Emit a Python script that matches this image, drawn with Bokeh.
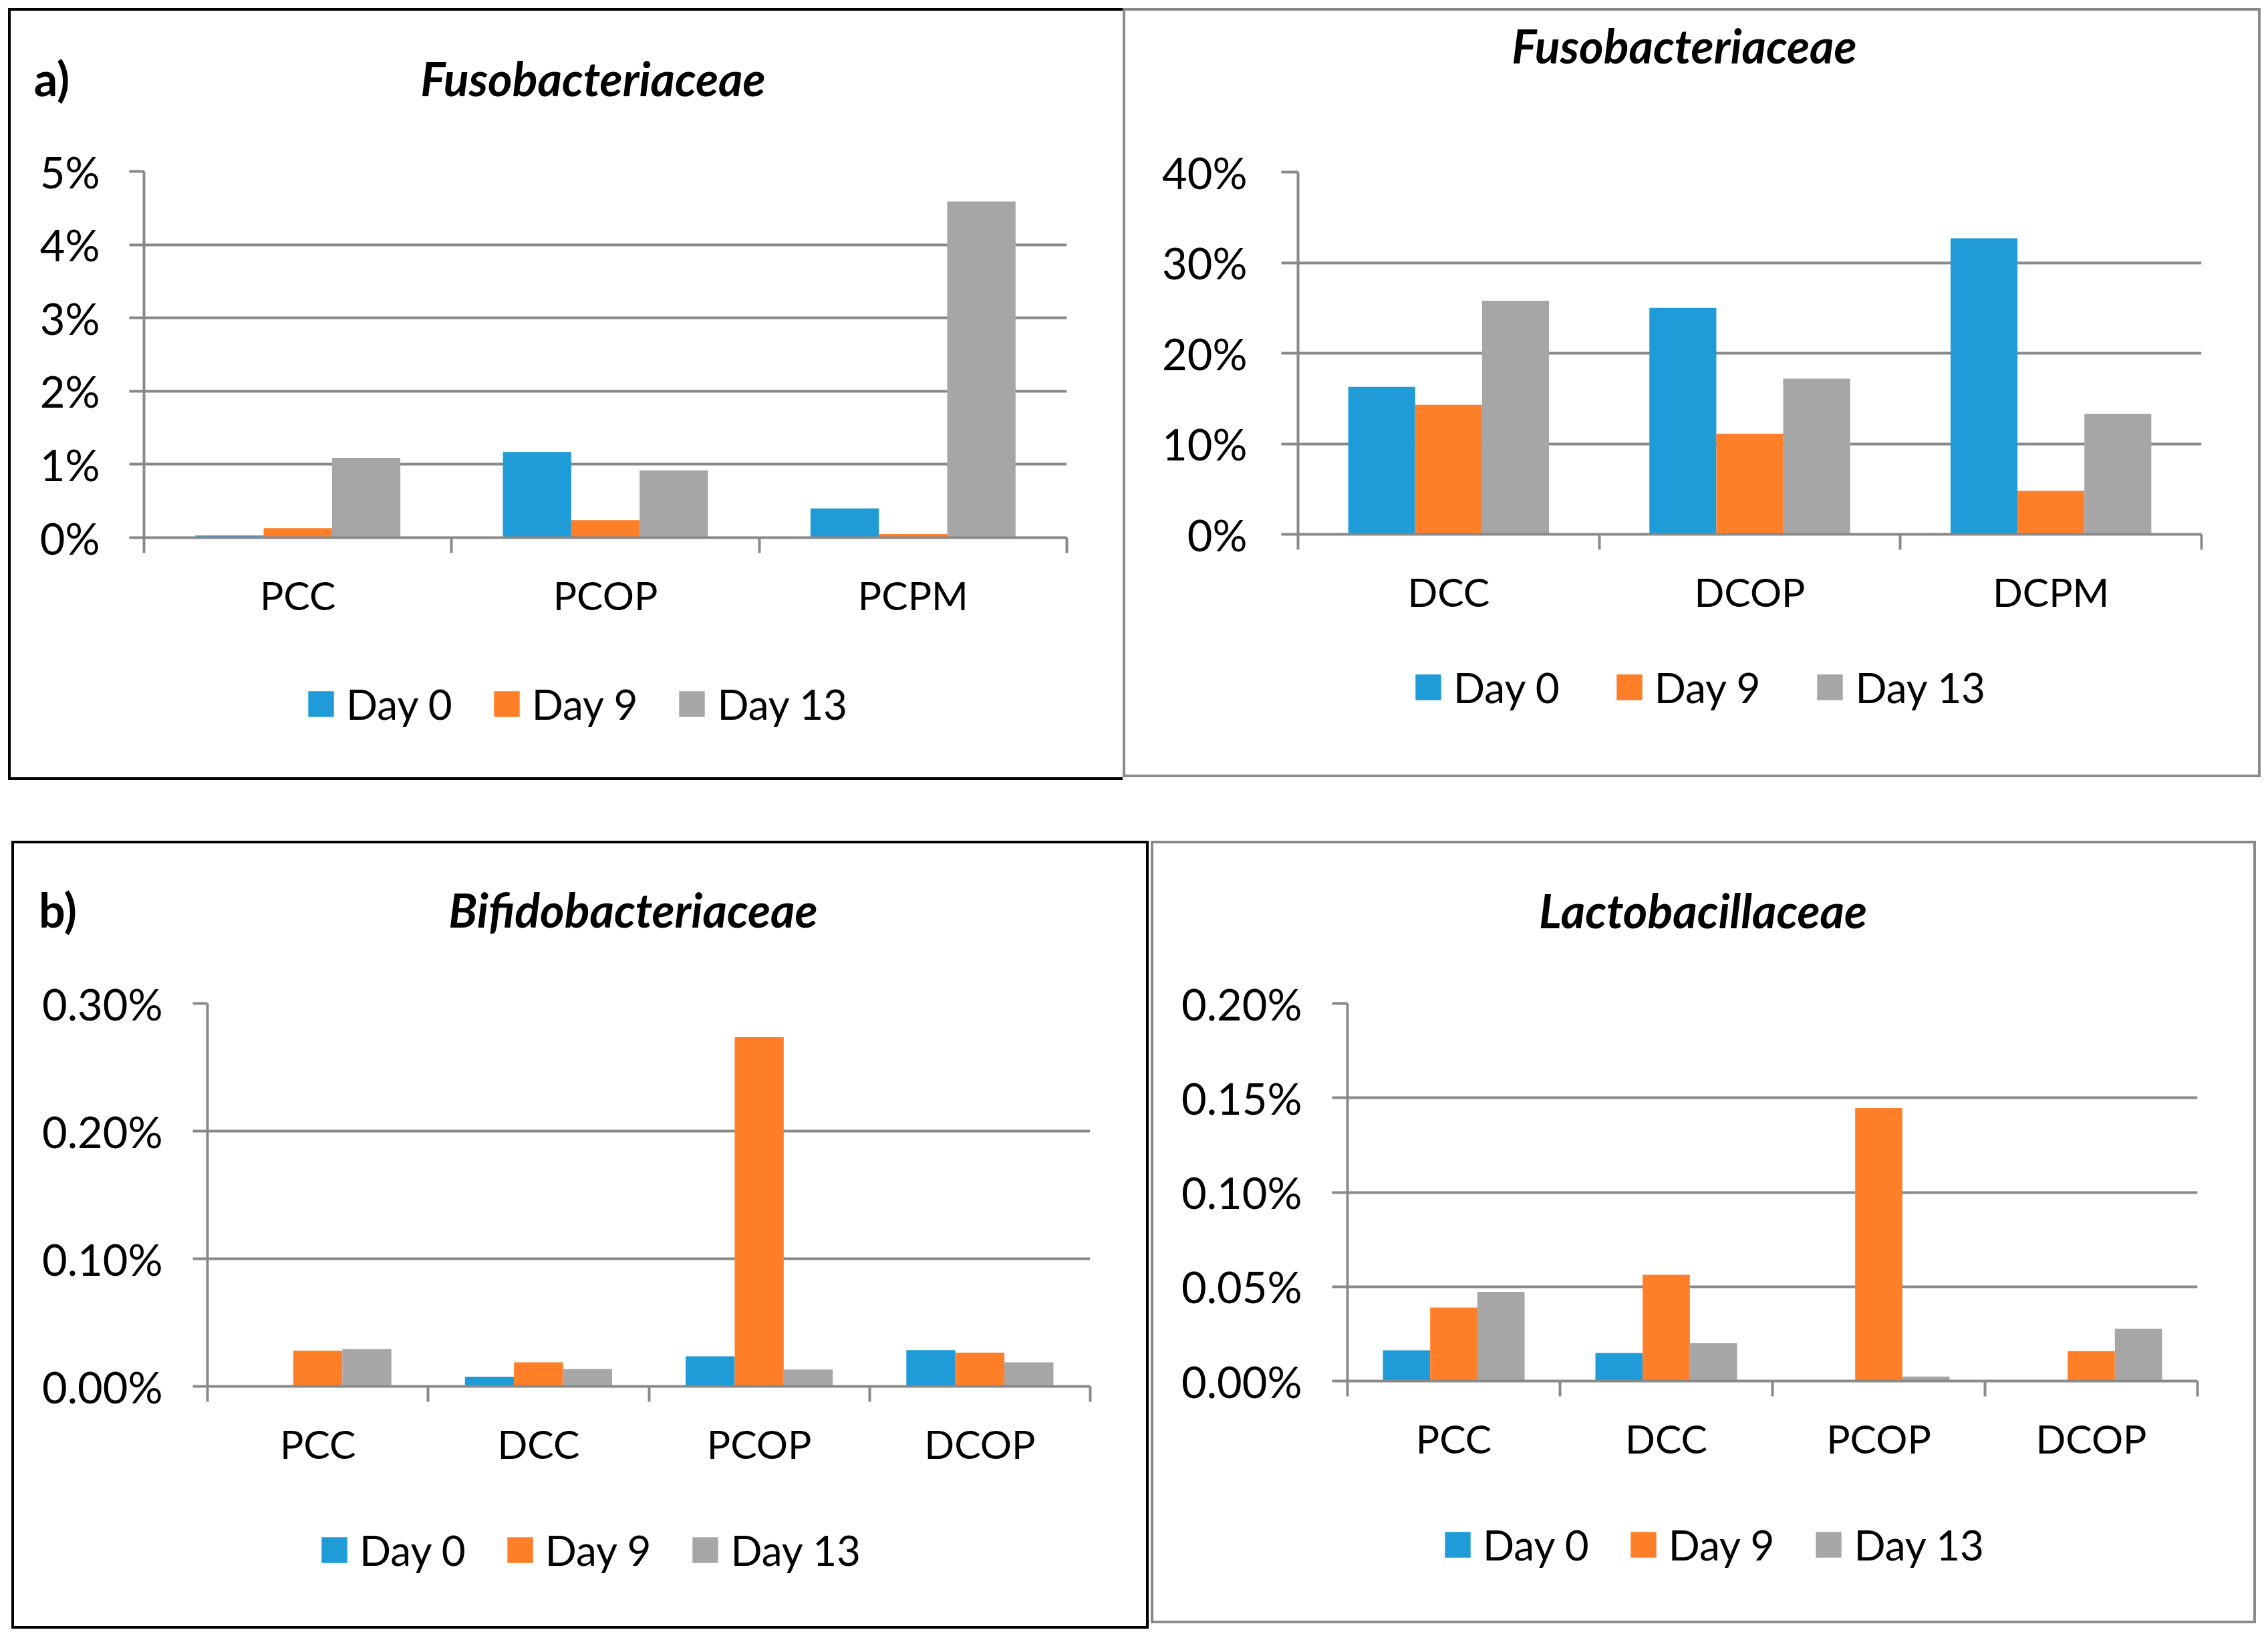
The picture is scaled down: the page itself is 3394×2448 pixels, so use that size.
import numpy as np
from bokeh.plotting import figure
from bokeh.models import (Range1d, FixedTicker, CustomJSTickFormatter, PrintfTickFormatter,
                          Legend, LegendItem, Label, Spacer)
from bokeh.layouts import row, column
from bokeh.embed import file_html
from bokeh.resources import INLINE

# ---------------- data ----------------
series = ["Day 0", "Day 9", "Day 13"]

a_categories = ["PCC", "PCOP", "PCPM"]
a_day0 = [0.03, 1.17, 0.40]
a_day9 = [0.13, 0.24, 0.05]
a_day13 = [1.09, 0.92, 4.59]
a_yticks = [0, 1, 2, 3, 4, 5]
a_title = "Fusobacteriaceae"

b_categories = ["DCC", "DCOP", "DCPM"]
b_day0 = [16.3, 25.0, 32.7]
b_day9 = [14.3, 11.1, 4.8]
b_day13 = [25.8, 17.2, 13.3]
b_yticks = [0, 10, 20, 30, 40]
b_title = "Fusobacteriaceae"

c_categories = ["PCC", "DCC", "PCOP", "DCOP"]
c_day0 = [0.0, 0.0076, 0.0236, 0.0284]
c_day9 = [0.0280, 0.0188, 0.2736, 0.0264]
c_day13 = [0.0292, 0.0136, 0.0132, 0.0188]
c_yticks = [0.0, 0.1, 0.2, 0.3]
c_title = "Bifidobacteriaceae"

d_categories = ["PCC", "DCC", "PCOP", "DCOP"]
d_day0 = [0.0163, 0.0149, 0.0, 0.0]
d_day9 = [0.0389, 0.0563, 0.1446, 0.0158]
d_day13 = [0.0473, 0.0201, 0.0024, 0.0277]
d_yticks = [0.0, 0.05, 0.10, 0.15, 0.20]
d_title = "Lactobacillaceae"

# ---------------- style ----------------
COLORS = ["#1f9cd8", "#fe7f27", "#a6a6a6"]
GRAY = "#898989"
FONT = "Lato"
YTICK_FS = "65px"
XTICK_FS = "59px"
LEGEND_FS = "62px"
TITLE_FS = "70px"
PAD_TOP = 40      # room above the frame inside the chart figure
PAD_BOTTOM = 170  # room below the frame inside the chart figure
GLYPH = 48        # legend swatch box (Bokeh insets the square by 10% per side)
INSET = 5


def blank_fig(W, H):
    f = figure(width=W, height=H, output_backend="svg", toolbar_location=None,
               x_axis_location=None, y_axis_location=None, min_border=0,
               x_range=Range1d(0, 1), y_range=Range1d(0, 1), title=None,
               border_fill_color=None, background_fill_color=None,
               outline_line_color=None, frame_align=False)
    f.grid.visible = False
    return f


def make_panel(categories, vals, yticks, fmt, title, W, H, fl, fr, ft, fb,
               y_stand, y_out, title_x, title_base, legend_x, legend_yc, legend_spacing,
               panel_label=None, panel_label_x=None, border=None):
    n = len(categories)
    hh = ft - PAD_TOP
    frame_h = fb - ft
    hc = PAD_TOP + frame_h + PAD_BOTTOM

    # ---- header with title ----
    head = blank_fig(W, hh)
    head.add_layout(Label(x=title_x, y=hh - title_base, x_units="screen", y_units="screen",
                          text=title, text_font=FONT, text_font_style="bold italic",
                          text_font_size=TITLE_FS, text_align="center",
                          text_baseline="alphabetic", text_color="black"))
    if panel_label:
        head.add_layout(Label(x=panel_label_x, y=hh - title_base, x_units="screen",
                              y_units="screen", text=panel_label, text_font=FONT,
                              text_font_style="bold", text_font_size=TITLE_FS,
                              text_align="center", text_baseline="alphabetic",
                              text_color="black"))

    # ---- chart ----
    p = figure(width=W, height=hc, output_backend="svg", toolbar_location=None,
               x_range=Range1d(0, n), y_range=Range1d(yticks[0], yticks[-1]),
               min_border_left=fl, min_border_right=W - fr,
               min_border_top=PAD_TOP, min_border_bottom=PAD_BOTTOM,
               border_fill_color=None, background_fill_color=None,
               outline_line_color=None, title=None, frame_align=False)
    w = 1.0 / 4.5
    centers = np.arange(n) + 0.5
    for k, v in enumerate(vals):
        p.vbar(x=centers + (k - 1) * w, top=v, width=w, bottom=0,
               fill_color=COLORS[k], line_color=None)

    xa = p.xaxis[0]
    xa.ticker = FixedTicker(ticks=list(centers), minor_ticks=list(range(n + 1)))
    xa.formatter = CustomJSTickFormatter(args=dict(names=categories),
                                         code="return names[Math.floor(tick)];")
    xa.major_tick_line_color = None
    xa.major_tick_out = 0
    xa.major_tick_in = 0
    xa.minor_tick_out = 23
    xa.minor_tick_in = 0
    xa.minor_tick_line_color = GRAY
    xa.minor_tick_line_width = 4
    xa.axis_line_color = GRAY
    xa.axis_line_width = 4
    xa.major_label_standoff = 27
    xa.major_label_text_font = FONT
    xa.major_label_text_font_size = XTICK_FS
    xa.major_label_text_color = "black"

    ya = p.yaxis[0]
    ya.ticker = FixedTicker(ticks=yticks)
    ya.formatter = PrintfTickFormatter(format=fmt)
    ya.major_tick_out = y_out
    ya.major_tick_in = 0
    ya.major_tick_line_color = GRAY
    ya.major_tick_line_width = 4
    ya.minor_tick_line_color = None
    ya.axis_line_color = GRAY
    ya.axis_line_width = 4
    ya.major_label_standoff = y_stand
    ya.major_label_text_font = FONT
    ya.major_label_text_font_size = YTICK_FS
    ya.major_label_text_color = "black"

    p.xgrid.visible = False
    p.ygrid.ticker = FixedTicker(ticks=yticks)
    p.ygrid.grid_line_color = GRAY
    p.ygrid.grid_line_width = 4

    # ---- legend (hidden copies of the series give the legend its swatches) ----
    chart_bottom = hh + hc
    hl = 2 * (legend_yc - chart_bottom)
    leg = blank_fig(W, hl)
    items = []
    for k, (s, v) in enumerate(zip(series, vals)):
        r = leg.vbar(x=centers + (k - 1) * w, top=v, width=w, bottom=0,
                     fill_color=COLORS[k], line_color=None, visible=False)
        items.append(LegendItem(label=s, renderers=[r]))
    legend = Legend(items=items, location="left", orientation="horizontal",
                    glyph_width=GLYPH, glyph_height=GLYPH, label_standoff=19 - INSET,
                    spacing=legend_spacing - INSET, padding=0, margin=legend_x - INSET,
                    border_line_color=None, background_fill_alpha=0,
                    inactive_fill_alpha=0,
                    label_text_font=FONT, label_text_font_size=LEGEND_FS,
                    label_text_color="black", label_text_baseline="middle")
    leg.add_layout(legend, "center")

    rest = H - chart_bottom - hl
    kids = [head, p, leg]
    if rest > 0:
        kids.append(Spacer(width=W, height=rest))
    return column(*kids, styles={"box-shadow": border})


BLACK3 = "inset 4px 0 0 0 #000, inset 0 4px 0 0 #000, inset 0 -4px 0 0 #000"
BLACK4 = "inset 0 0 0 4px #000"
GRAY4 = "inset 0 0 0 4px " + GRAY

pA = make_panel(a_categories, [a_day0, a_day9, a_day13], a_yticks, "%d%%", a_title,
                W=1668, H=1155, fl=203, fr=1584, ft=244, fb=792,
                y_stand=44, y_out=22, title_x=875, title_base=104,
                legend_x=449, legend_yc=1041, legend_spacing=62,
                panel_label="a)", panel_label_x=65, border=BLACK3)

pB = make_panel(b_categories, [b_day0, b_day9, b_day13], b_yticks, "%d%%", b_title,
                W=1703, H=1151, fl=262, fr=1614, ft=245, fb=787,
                y_stand=51, y_out=25, title_x=840, title_base=55,
                legend_x=438, legend_yc=1016, legend_spacing=85, border=GRAY4)

pC = make_panel(c_categories, [c_day0, c_day9, c_day13], c_yticks, "%.2f%%", c_title,
                W=1702, H=1179, fl=293, fr=1614, ft=243, fb=816,
                y_stand=45, y_out=22, title_x=930, title_base=102,
                legend_x=464, legend_yc=1061, legend_spacing=62,
                panel_label="b)", panel_label_x=69, border=BLACK4)

pD = make_panel(d_categories, [d_day0, d_day9, d_day13], d_yticks, "%.2f%%", d_title,
                W=1654, H=1171, fl=294, fr=1566, ft=243, fb=808,
                y_stand=45, y_out=23, title_x=826, title_base=103,
                legend_x=440, legend_yc=1053, legend_spacing=62, border=GRAY4)

layout = column(
    Spacer(width=10, height=12),
    row(Spacer(width=12, height=10), pA, pB),
    Spacer(width=10, height=91),
    row(Spacer(width=17, height=10), pC, Spacer(width=3, height=10), pD),
)

open("out.html", "w").write(file_html(layout, INLINE))
